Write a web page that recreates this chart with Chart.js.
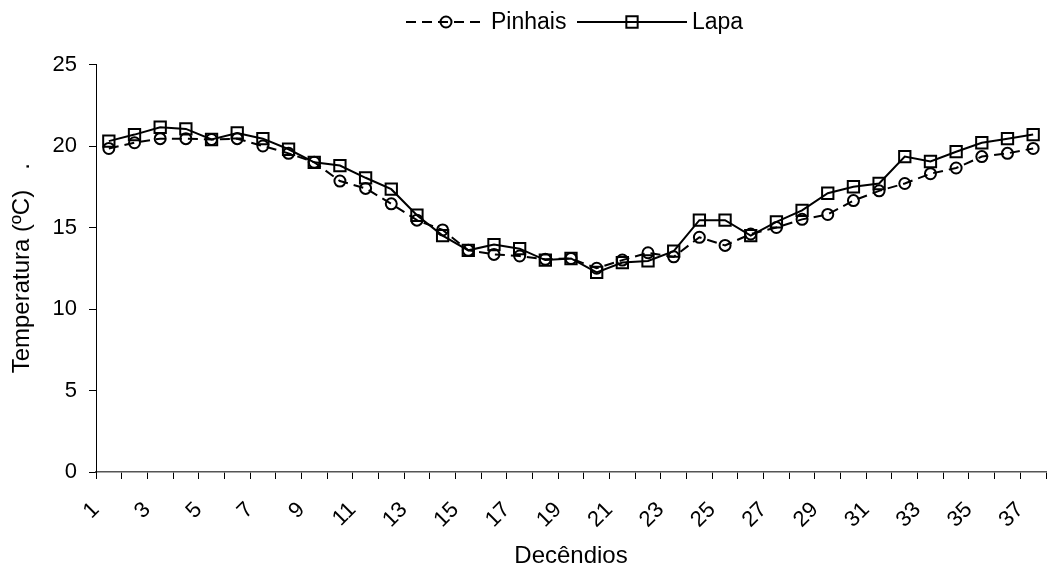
<!DOCTYPE html>
<html>
<head>
<meta charset="utf-8">
<script src="https://cdn.jsdelivr.net/npm/chart.js@4/dist/chart.umd.min.js"></script>
<style>
html, body { margin: 0; padding: 0; background: #fff; overflow: hidden; width: 1048px; height: 572px; }
#wrap { position: relative; width: 1056px; height: 572px; }
canvas { display: block; }
</style>
</head>
<body>
<div id="wrap"><canvas id="c" width="1056" height="572"></canvas></div>
<script>
// ---- data ----
const categories = ['1','2','3','4','5','6','7','8','9','10','11','12','13','14','15','16','17','18','19',
  '20','21','22','23','24','25','26','27','28','29','30','31','32','33','34','35','36','37'];
const pinhais = [19.85, 20.2, 20.45, 20.45, 20.4, 20.45, 20.0, 19.55, 19.0, 17.85,
  17.4, 16.45, 15.45, 14.85, 13.6, 13.35, 13.25, 13.05, 13.1, 12.5,
  13.0, 13.45, 13.2, 14.4, 13.9, 14.6, 15.0, 15.5, 15.8, 16.65,
  17.25, 17.7, 18.3, 18.65, 19.35, 19.55, 19.85];
const lapa = [20.3, 20.7, 21.15, 21.05, 20.4, 20.8, 20.45, 19.8, 19.0, 18.8,
  18.05, 17.35, 15.75, 14.5, 13.6, 13.95, 13.7, 13.0, 13.1, 12.25,
  12.85, 12.95, 13.55, 15.45, 15.45, 14.5, 15.35, 16.05, 17.1, 17.5,
  17.7, 19.35, 19.05, 19.65, 20.2, 20.45, 20.7];
const seriesNames = ['Pinhais', 'Lapa'];
const yTickValues = [0, 5, 10, 15, 20, 25];
const xTitle = 'Decêndios';
const yTitle = 'Temperatura (ºC)   .';

const FONT = "'Liberation Sans', Arial, sans-serif";

const legendPlugin = {
  id: 'excelLegend',
  afterDraw(chart) {
    const ctx = chart.ctx;
    const slots = [
      { x0: 406, x1: 486, tx: 491 },
      { x0: 577, x1: 687, tx: 692 }
    ];
    const y = 22;
    ctx.save();
    chart.data.datasets.forEach((d, i) => {
      const s = slots[i];
      ctx.strokeStyle = d.borderColor;
      ctx.lineWidth = d.borderWidth;
      ctx.setLineDash(d.borderDash || []);
      ctx.beginPath();
      ctx.moveTo(s.x0, y);
      ctx.lineTo(s.x1, y);
      ctx.stroke();
      ctx.setLineDash([]);
      ctx.fillStyle = 'rgba(0,0,0,0)';
      ctx.strokeStyle = d.pointBorderColor;
      ctx.lineWidth = d.pointBorderWidth;
      Chart.helpers.drawPoint(ctx, { pointStyle: d.pointStyle, radius: d.pointRadius, borderWidth: d.pointBorderWidth, rotation: 0 }, (s.x0 + s.x1) / 2, y);
      ctx.fillStyle = '#000';
      ctx.font = '23px ' + FONT;
      ctx.textBaseline = 'middle';
      ctx.textAlign = 'left';
      ctx.fillText(d.label, s.tx, y + 1);
    });
    ctx.restore();
  }
};

new Chart(document.getElementById('c'), {
  type: 'line',
  data: {
    labels: categories,
    datasets: [
      {
        label: seriesNames[0], data: pinhais,
        borderColor: '#000', borderWidth: 2, borderDash: [10, 6],
        pointStyle: 'circle', pointRadius: 5.5, pointBorderWidth: 2,
        pointBorderColor: '#000', pointBackgroundColor: 'rgba(0,0,0,0)',
        tension: 0, fill: false
      },
      {
        label: seriesNames[1], data: lapa,
        borderColor: '#000', borderWidth: 2,
        pointStyle: 'rect', pointRadius: 8, pointBorderWidth: 2,
        pointBorderColor: '#000', pointBackgroundColor: 'rgba(0,0,0,0)',
        tension: 0, fill: false
      }
    ]
  },
  options: {
    responsive: false,
    animation: false,
    devicePixelRatio: 1,
    layout: { padding: { top: 64.5, right: 0, bottom: 0, left: 0 } },
    plugins: { legend: { display: false }, tooltip: { enabled: false } },
    scales: {
      x: {
        type: 'category',
        offset: true,
        grid: { display: true, drawOnChartArea: false, drawTicks: true, tickLength: 7, offset: true, color: '#000', tickColor: '#000' },
        border: { display: true, color: '#555', width: 1.5 },
        ticks: {
          autoSkip: false, maxRotation: 45, minRotation: 45,
          font: { family: FONT, size: 22 }, color: '#000',
          padding: 18, labelOffset: -13,
          callback: (v, i) => (i % 2 === 0 ? categories[i] : '')
        },
        title: { display: true, text: xTitle, font: { family: FONT, size: 24 }, color: '#000', padding: { top: 0, bottom: 1 } },
        afterFit: (s) => { s.height = 100; s.paddingLeft = 0; s.paddingRight = 0; }
      },
      y: {
        min: 0, max: 25,
        afterBuildTicks: (s) => { s.ticks = yTickValues.map(v => ({ value: v })); },
        grid: { display: true, drawOnChartArea: false, drawTicks: true, tickLength: 7, color: '#000', tickColor: '#000' },
        border: { display: true, color: '#000', width: 1 },
        ticks: { font: { family: FONT, size: 22 }, color: '#000', padding: 12 },
        title: { display: true, text: yTitle, font: { family: FONT, size: 24 }, color: '#000', padding: { top: 8, bottom: 0 } },
        afterFit: (s) => { s.width = 96; }
      }
    }
  },
  plugins: [legendPlugin]
});
</script>
</body>
</html>
